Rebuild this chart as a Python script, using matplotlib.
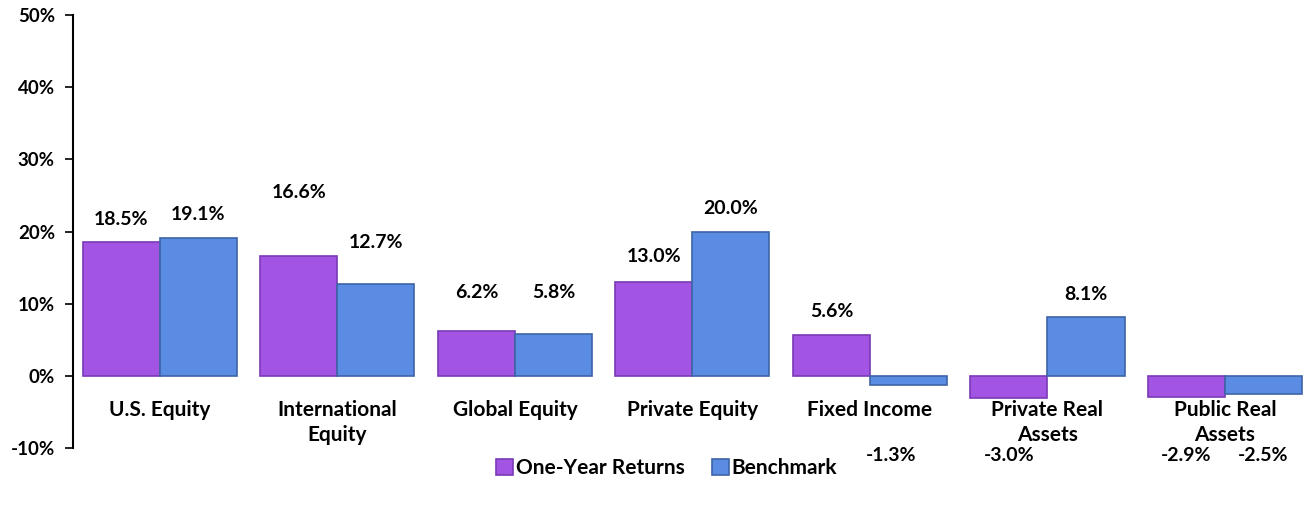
from matplotlib import pyplot as plt
import numpy as np

categories = ["U.S. Equity", "International\nEquity", "Global Equity",
              "Private Equity", "Fixed Income", "Private Real\nAssets",
              "Public Real\nAssets"]
one_year = [18.5, 16.6, 6.2, 13.0, 5.6, -3.0, -2.9]
benchmark = [19.1, 12.7, 5.8, 20.0, -1.3, 8.1, -2.5]

# label placement (data units), hand-adjusted like the original
label_y_one = [21.7, 25.4, 11.6, 16.5, 8.9, -11.1, -11.1]
label_y_bench = [22.4, 18.5, 11.6, 23.2, -11.1, 11.3, -11.1]
label_dx_bench = [0, 0, 0, 0, -0.1, 0, 0]

yticks = [-10, 0, 10, 20, 30, 40, 50]

purple = "#A155E2"
purple_edge = "#7B3AB5"
blue = "#5B8CE4"
blue_edge = "#3E64A6"

plt.rcParams["font.family"] = ["Lato", "DejaVu Sans"]
plt.rcParams["font.weight"] = "bold"

fig = plt.figure(figsize=(13.05, 5.08), dpi=100)
ax = fig.add_axes([0.0559, 0.118, 0.944, 0.8524])

x = np.arange(len(categories))
w = 0.434
b1 = ax.bar(x - w / 2, one_year, w, color=purple, edgecolor=purple_edge,
            linewidth=1.2, label="One-Year Returns")
b2 = ax.bar(x + w / 2, benchmark, w, color=blue, edgecolor=blue_edge,
            linewidth=1.2, label="Benchmark")

for i in range(len(categories)):
    ax.text(x[i] - w / 2, label_y_one[i], f"{one_year[i]:.1f}%",
            ha="center", va="center", fontsize=14, fontweight="bold")
    ax.text(x[i] + w / 2 + label_dx_bench[i], label_y_bench[i],
            f"{benchmark[i]:.1f}%", ha="center", va="center",
            fontsize=14, fontweight="bold")
    ax.text(x[i], -3.4, categories[i], ha="center", va="top",
            fontsize=15, fontweight="bold", linespacing=1.3)

ax.set_xlim(-0.49, 6.45)
ax.set_ylim(-10, 50)
ax.set_yticks(yticks)
ax.set_yticklabels([f"{t}%" for t in yticks], fontsize=13.5, fontweight="bold")
ax.set_xticks([])
ax.tick_params(axis="y", direction="out", length=6, width=1.2, pad=7)
for s in ("top", "right", "bottom"):
    ax.spines[s].set_visible(False)
ax.spines["left"].set_linewidth(1.5)

fig.legend(handles=[b1, b2], loc="center", bbox_to_anchor=(0.511, 0.078),
           ncol=2, frameon=False, handlelength=0.8, handleheight=0.8,
           handletextpad=0.15, columnspacing=1.3,
           prop={"size": 15, "weight": "bold"})

fig.savefig("out.png", dpi=100)
